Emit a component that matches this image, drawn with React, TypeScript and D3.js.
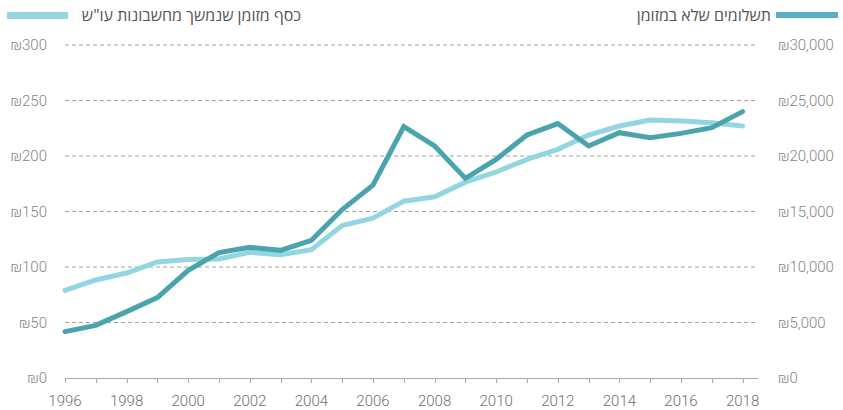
import React from 'react';
import * as d3 from 'd3';

// years on the x axis
const years = d3.range(1996, 2019);

// cash withdrawn from current accounts (left axis, ₪)
const cashWithdrawn = [
  79, 88.3, 94.6, 104.5, 106.7, 107.3, 113.2, 111, 115.6, 137.3, 143.9, 159.3,
  163.2, 176.4, 185.6, 197, 206, 218.9, 227, 232.4, 231.6, 230, 227,
];

// non-cash payments (right axis, ₪)
const nonCashPayments = [
  4180, 4740, 5980, 7250, 9700, 11300, 11770, 11500, 12400, 15180, 17370, 22650,
  20900, 17980, 19700, 21890, 22920, 20900, 22100, 21650, 22040, 22550, 24000,
];

const leftTicks = [0, 50, 100, 150, 200, 250, 300];
const rightTicks = [0, 5000, 10000, 15000, 20000, 25000, 30000];
const yearLabels = d3.range(1996, 2019, 2);

const legendDark = 'תשלומים שלא במזומן';
const legendLight = 'כסף מזומן שנמשך מחשבונות עו"ש';

const W = 843;
const H = 410;
const DARK = '#4aa4ae';
const LIGHT = '#93d6e2';
const TEXT = '#858585';
const FONT = 'Roboto, "Noto Sans", sans-serif';
const HEB_FONT = '"Open Sans", "DejaVu Sans", sans-serif';

export default function App() {
  const x = d3.scaleLinear().domain([1996, 2018.5]).range([65, 758]);
  const yL = d3.scaleLinear().domain([0, 300]).range([378, 45]);
  const yR = d3.scaleLinear().domain([0, 30000]).range([378, 45]);

  const lightLine = d3
    .line<number>()
    .x((_, i) => x(years[i]))
    .y((d) => yL(d));
  const darkLine = d3
    .line<number>()
    .x((_, i) => x(years[i]))
    .y((d) => yR(d));

  const shekel = d3.format(',');
  const [x0, x1] = x.range();

  return (
    <svg
      width={W}
      height={H}
      style={{ position: 'absolute', left: 0, top: 0, background: '#fff' }}
    >
      {/* legend */}
      <rect x={7} y={12} width={61} height={7} fill={LIGHT} />
      <text
        x={301}
        y={21}
        textAnchor="end"
        fontFamily={HEB_FONT}
        fontSize={16}
        fill="#555"
      >
        {legendLight}
      </text>
      <rect x={776} y={12} width={62} height={6} fill="#58b0c2" />
      <text
        x={771}
        y={21}
        textAnchor="end"
        fontFamily={HEB_FONT}
        fontSize={16}
        fill="#555"
      >
        {legendDark}
      </text>

      {/* grid */}
      {leftTicks
        .filter((t) => t > 0)
        .map((t) => (
          <line
            key={t}
            x1={x0}
            x2={x1}
            y1={yL(t)}
            y2={yL(t)}
            stroke="#a0a0a0"
            strokeWidth={1}
            strokeDasharray="4,3"
          />
        ))}

      {/* left axis labels */}
      {leftTicks.map((t) => (
        <text
          key={t}
          x={47}
          y={yL(t)}
          dy="0.35em"
          textAnchor="end"
          fontFamily={FONT}
          fontWeight={300}
          fontSize={15}
          fill={TEXT}
        >
          {'₪' + t}
        </text>
      ))}

      {/* right axis labels */}
      {rightTicks.map((t) => (
        <text
          key={t}
          x={778}
          y={yR(t)}
          dy="0.35em"
          textAnchor="start"
          fontFamily={FONT}
          fontWeight={300}
          fontSize={15}
          fill={TEXT}
        >
          {'₪' + shekel(t)}
        </text>
      ))}

      {/* x axis */}
      <line x1={x0} x2={x1} y1={378.5} y2={378.5} stroke="#a8a8a8" strokeWidth={1.2} />
      {years.map((yr) => (
        <line
          key={yr}
          x1={Math.round(x(yr)) + 0.5}
          x2={Math.round(x(yr)) + 0.5}
          y1={378}
          y2={383}
          stroke="#a8a8a8"
        />
      ))}
      {yearLabels.map((yr) => (
        <text
          key={yr}
          x={x(yr)}
          y={406}
          textAnchor="middle"
          fontFamily={FONT}
          fontWeight={300}
          fontSize={15}
          fill="#6f6f6f"
        >
          {yr}
        </text>
      ))}

      {/* series */}
      <path
        d={lightLine(cashWithdrawn) ?? ''}
        fill="none"
        stroke={LIGHT}
        strokeWidth={5}
        strokeLinecap="round"
      />
      <path
        d={darkLine(nonCashPayments) ?? ''}
        fill="none"
        stroke={DARK}
        strokeWidth={5}
        strokeLinecap="round"
      />
    </svg>
  );
}
